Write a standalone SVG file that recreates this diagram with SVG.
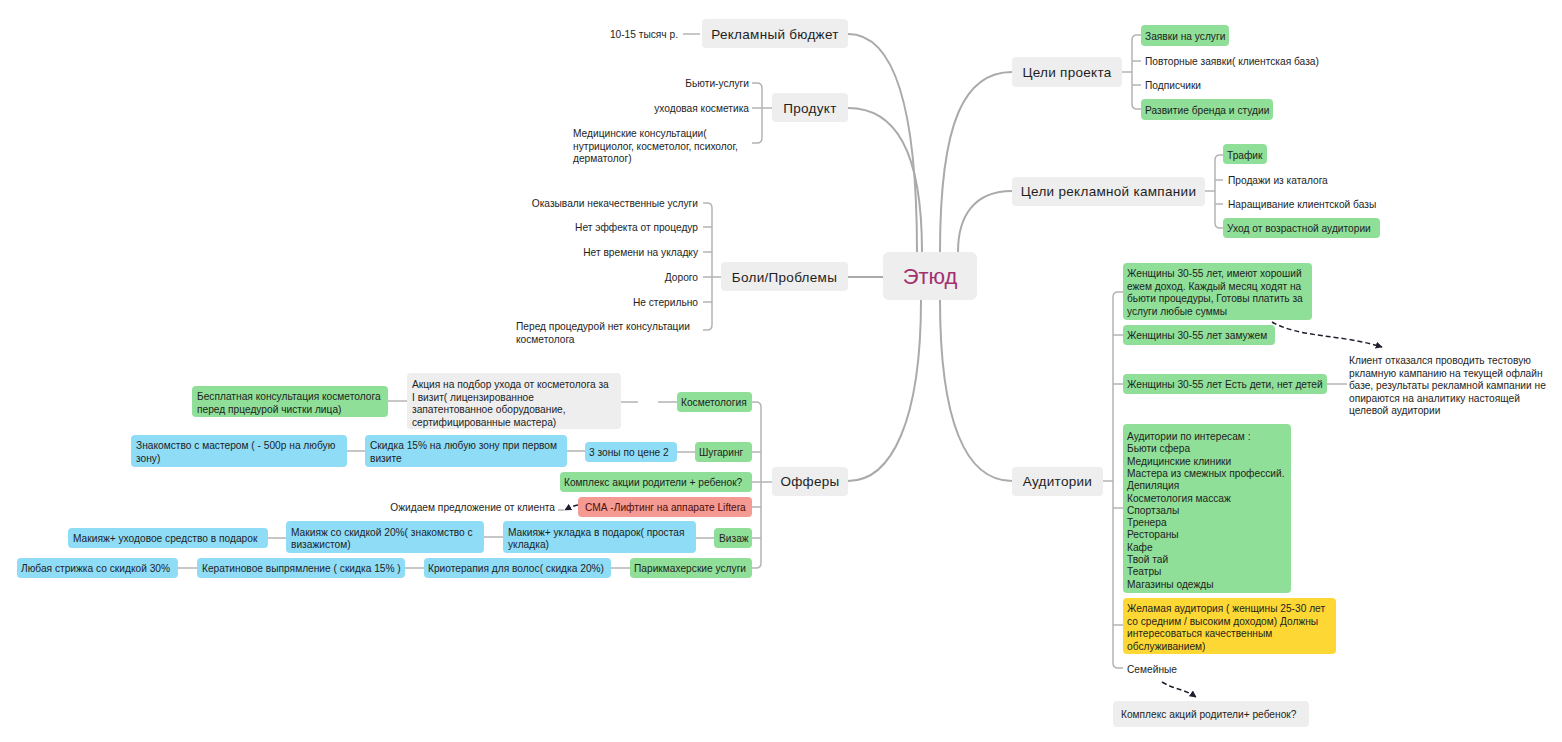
<svg xmlns="http://www.w3.org/2000/svg" width="1562" height="742" viewBox="0 0 1562 742">
<style>
text{font-family:"Liberation Sans",Arial,sans-serif;fill:#1e1e1e}
.s{font-size:10.2px}
.m{font-size:13.5px;text-anchor:middle;letter-spacing:0.3px}
.c{font-size:22px;text-anchor:middle;fill:#a3306f}
.e{text-anchor:end}
.main{fill:#eeeeee}
.g{fill:#8fdf99}
.b{fill:#8fdcf7}
.r{fill:#f59a93}
.y{fill:#fdd835}
.gr{fill:#eeeeee}
.ln{fill:none;stroke:#aaaaaa;stroke-width:2}
.br{fill:none;stroke:#b4b4b4;stroke-width:1.5}
.da{fill:none;stroke:#1e1e2e;stroke-width:1.5;stroke-dasharray:5 3}
</style>
<defs>
<marker id="ah" viewBox="0 0 10 10" refX="9" refY="5" markerWidth="7" markerHeight="7" orient="auto" markerUnits="userSpaceOnUse">
<path d="M0,0 L10,5 L0,10 z" fill="#1e1e2e"/>
</marker>
</defs>

<g id="connectors">
<path class="ln" d="M848,34 C892,34 917,100 917,252"/>
<path class="ln" d="M848,108 C895,108 922,150 922,252"/>
<path class="ln" d="M848,277 H883"/>
<path class="ln" d="M848,481 C892,481 921,420 921,300"/>
<path class="ln" d="M1012,72 C965,72 940,120 940,252"/>
<path class="ln" d="M1012,191 C975,191 958,215 958,252"/>
<path class="ln" d="M1012,481 C965,481 940,420 940,300"/>

<path class="br" d="M683,34 H700"/>
<path class="br" d="M752,83 H757 Q762,83 762,88 V138 Q762,143 757,143 H752 M752,108 H772"/>
<path class="br" d="M703,203 H707 Q712,203 712,208 V325 Q712,330 707,330 H703 M703,227 H712 M703,252 H712 M703,277 H721 M703,302 H712"/>
<path class="br" d="M752,402 H756 Q761,402 761,407 V563 Q761,568 756,568 H752 M752,452 H761 M752,482 H772 M752,507 H761 M752,538 H761"/>
<path class="br" d="M621,402 H638 M658,402 H677"/>
<path class="br" d="M388,401 H407"/>
<path class="br" d="M677,452 H695 M567,451 H585 M347,451 H365"/>
<path class="br" d="M696,538 H714 M484,537 H503 M268,538 H286"/>
<path class="br" d="M611,568 H630 M405,568 H424 M178,568 H197"/>
<path class="br" d="M1141,35 H1137 Q1132,35 1132,40 V104 Q1132,109 1137,109 H1141 M1132,61 H1141 M1132,85 H1141 M1122,72 H1132"/>
<path class="br" d="M1223,155 H1220 Q1215,155 1215,160 V223 Q1215,228 1220,228 H1223 M1215,180 H1223 M1215,204 H1223 M1205,191 H1215"/>
<path class="br" d="M1123,292 H1118 Q1113,292 1113,297 V663 Q1113,668 1118,668 H1123 M1113,335 H1123 M1113,384 H1123 M1113,508 H1123 M1113,625 H1123 M1103,481 H1113"/>
<path class="br" d="M1327,384 H1347"/>
<path class="da" d="M1272,322 C1300,338 1340,334 1382,347" marker-end="url(#ah)"/>
<path class="da" d="M1162,682 C1175,690 1185,689 1196,697" marker-end="url(#ah)"/>
<path class="da" d="M578,505 Q572,506 565,510" marker-end="url(#ah)"/>
<path class="br" d="M558,510 H564"/>
</g>

<g id="center"><rect class="main" x="883" y="252" width="94" height="48" rx="6"/><text class="c" x="930" y="284">Этюд</text></g>

<g id="budget"><rect class="main" x="702" y="19" width="146" height="29" rx="4"/><text class="m" x="775" y="38.5">Рекламный бюджет</text></g>
<g id="budget-1"><text class="s e" x="678" y="37.5">10-15 тысяч р.</text></g>

<g id="product"><rect class="main" x="772" y="93" width="76" height="29" rx="4"/><text class="m" x="810" y="112.5">Продукт</text></g>
<g id="product-1"><text class="s e" x="749" y="87">Бьюти-услуги</text></g>
<g id="product-2"><text class="s e" x="749" y="112">уходовая косметика</text></g>
<g id="product-3"><text class="s" x="573" y="137">Медицинские консультации(</text><text class="s" x="573" y="149.5">нутрициолог, косметолог, психолог,</text><text class="s" x="573" y="162">дерматолог)</text></g>

<g id="pains"><rect class="main" x="721" y="262" width="127" height="29" rx="4"/><text class="m" x="784.5" y="281.5">Боли/Проблемы</text></g>
<g id="pain-1"><text class="s e" x="698" y="207">Оказывали некачественные услуги</text></g>
<g id="pain-2"><text class="s e" x="698" y="231">Нет эффекта от процедур</text></g>
<g id="pain-3"><text class="s e" x="698" y="256">Нет времени на укладку</text></g>
<g id="pain-4"><text class="s e" x="698" y="281">Дорого</text></g>
<g id="pain-5"><text class="s e" x="698" y="306">Не стерильно</text></g>
<g id="pain-6"><text class="s" x="516" y="330">Перед процедурой нет консультации</text><text class="s" x="516" y="342.5">косметолога</text></g>

<g id="offers"><rect class="main" x="772" y="467" width="76" height="29" rx="4"/><text class="m" x="810" y="486">Офферы</text></g>
<g id="cosm"><rect class="g" x="677" y="392" width="75" height="20" rx="4"/><text class="s" x="681" y="406">Косметология</text></g>
<g id="cosm-1"><rect class="gr" x="407" y="373" width="214" height="56" rx="4"/><text class="s" x="412" y="388">Акция на подбор ухода от косметолога за</text><text class="s" x="412" y="400.5">I визит(  лицензированное</text><text class="s" x="412" y="413">запатентованное оборудование,</text><text class="s" x="412" y="425.5">сертифицированные мастера)</text></g>
<g id="cosm-2"><rect class="g" x="192" y="386" width="196" height="31" rx="4"/><text class="s" x="197" y="400">Бесплатная консультация косметолога</text><text class="s" x="197" y="412.5">перед прцедурой чистки лица)</text></g>
<g id="sugar"><rect class="g" x="695" y="442" width="57" height="20" rx="4"/><text class="s" x="699" y="456">Шугаринг</text></g>
<g id="sugar-1"><rect class="b" x="585" y="442" width="92" height="20" rx="4"/><text class="s" x="589" y="456">3 зоны по цене 2</text></g>
<g id="sugar-2"><rect class="b" x="365" y="435" width="202" height="32" rx="4"/><text class="s" x="370" y="449">Скидка 15% на любую зону при первом</text><text class="s" x="370" y="461.5">визите</text></g>
<g id="sugar-3"><rect class="b" x="131" y="435" width="216" height="32" rx="4"/><text class="s" x="136" y="449">Знакомство с мастером ( - 500р на любую</text><text class="s" x="136" y="461.5">зону)</text></g>
<g id="family-offer"><rect class="g" x="560" y="472" width="192" height="20" rx="4"/><text class="s" x="564" y="486">Комплекс акции родители + ребенок?</text></g>
<g id="sma"><rect class="r" x="578" y="497" width="174" height="20" rx="4"/><text class="s" x="585" y="511" style="fill:#4a0c0c">СМА -Лифтинг на аппарате Liftera</text></g>
<g id="sma-1"><text class="s e" x="555" y="511">Ожидаем предложение от клиента</text></g>
<g id="visage"><rect class="g" x="714" y="528" width="38" height="20" rx="4"/><text class="s" x="719" y="542">Визаж</text></g>
<g id="visage-1"><rect class="b" x="503" y="521" width="193" height="32" rx="4"/><text class="s" x="508" y="535.5">Макияж+ укладка в подарок( простая</text><text class="s" x="508" y="548">укладка)</text></g>
<g id="visage-2"><rect class="b" x="286" y="521" width="198" height="32" rx="4"/><text class="s" x="291" y="535.5">Макияж со скидкой 20%( знакомство с</text><text class="s" x="291" y="548">визажистом)</text></g>
<g id="visage-3"><rect class="b" x="68" y="528" width="200" height="20" rx="4"/><text class="s" x="73" y="542">Макияж+ уходовое средство в подарок</text></g>
<g id="hair"><rect class="g" x="630" y="558" width="122" height="20" rx="4"/><text class="s" x="634" y="572">Парикмахерские услуги</text></g>
<g id="hair-1"><rect class="b" x="424" y="558" width="187" height="20" rx="4"/><text class="s" x="428" y="572">Криотерапия для волос( скидка 20%)</text></g>
<g id="hair-2"><rect class="b" x="197" y="558" width="208" height="20" rx="4"/><text class="s" x="202" y="572">Кератиновое выпрямление ( скидка 15% )</text></g>
<g id="hair-3"><rect class="b" x="17" y="558" width="161" height="20" rx="4"/><text class="s" x="21" y="572">Любая стрижка со скидкой 30%</text></g>

<g id="goals"><rect class="main" x="1012" y="57" width="110" height="30" rx="4"/><text class="m" x="1067" y="77">Цели проекта</text></g>
<g id="goal-1"><rect class="g" x="1141" y="25" width="88" height="21" rx="4"/><text class="s" x="1145" y="39.5">Заявки на услуги</text></g>
<g id="goal-2"><text class="s" x="1145" y="65">Повторные заявки( клиентская база)</text></g>
<g id="goal-3"><text class="s" x="1145" y="89">Подписчики</text></g>
<g id="goal-4"><rect class="g" x="1141" y="99" width="132" height="21" rx="4"/><text class="s" x="1145" y="113.5">Развитие бренда и студии</text></g>

<g id="campaign"><rect class="main" x="1012" y="177" width="193" height="29" rx="4"/><text class="m" x="1108.5" y="196">Цели рекламной кампании</text></g>
<g id="camp-1"><rect class="g" x="1223" y="144" width="44" height="20" rx="4"/><text class="s" x="1227" y="159">Трафик</text></g>
<g id="camp-2"><text class="s" x="1228" y="184">Продажи из каталога</text></g>
<g id="camp-3"><text class="s" x="1228" y="208">Наращивание клиентской базы</text></g>
<g id="camp-4"><rect class="g" x="1223" y="218" width="157" height="20" rx="4"/><text class="s" x="1227" y="232">Уход от возрастной аудитории</text></g>

<g id="audience"><rect class="main" x="1012" y="467" width="91" height="29" rx="4"/><text class="m" x="1057.5" y="486">Аудитории</text></g>
<g id="aud-1"><rect class="g" x="1123" y="263" width="189" height="57" rx="4"/><text class="s" x="1127" y="277">Женщины 30-55 лет, имеют хороший</text><text class="s" x="1127" y="289.5">ежем доход. Каждый месяц ходят на</text><text class="s" x="1127" y="302">бьюти процедуры, Готовы платить за</text><text class="s" x="1127" y="314.5">услуги любые суммы</text></g>
<g id="aud-2"><rect class="g" x="1123" y="325" width="152" height="20" rx="4"/><text class="s" x="1127" y="339">Женщины 30-55 лет замужем</text></g>
<g id="aud-3"><rect class="g" x="1123" y="374" width="204" height="20" rx="4"/><text class="s" x="1127" y="388">Женщины 30-55 лет Есть дети, нет детей</text></g>
<g id="aud-3-note"><text class="s" x="1349" y="364">Клиент отказался проводить тестовую</text><text class="s" x="1349" y="376.5">ркламную кампанию на текущей офлайн</text><text class="s" x="1349" y="389">базе, результаты рекламной кампании не</text><text class="s" x="1349" y="401.5">опираются на аналитику настоящей</text><text class="s" x="1349" y="414">целевой аудитории</text></g>
<g id="aud-4"><rect class="g" x="1123" y="424" width="168" height="169" rx="4"/>
<text class="s" x="1127" y="440">Аудитории по интересам :</text>
<text class="s" x="1127" y="452.3">Бьюти сфера</text>
<text class="s" x="1127" y="464.6">Медицинские клиники</text>
<text class="s" x="1127" y="476.9">Мастера из смежных профессий.</text>
<text class="s" x="1127" y="489.2">Депиляция</text>
<text class="s" x="1127" y="501.5">Косметология массаж</text>
<text class="s" x="1127" y="513.8">Спортзалы</text>
<text class="s" x="1127" y="526.1">Тренера</text>
<text class="s" x="1127" y="538.4">Рестораны</text>
<text class="s" x="1127" y="550.7">Кафе</text>
<text class="s" x="1127" y="563">Твой тай</text>
<text class="s" x="1127" y="575.3">Театры</text>
<text class="s" x="1127" y="587.6">Магазины одежды</text></g>
<g id="aud-5"><rect class="y" x="1123" y="598" width="213" height="56" rx="4"/><text class="s" x="1127" y="612">Желамая аудитория ( женщины 25-30 лет</text><text class="s" x="1127" y="624.5">со средним / высоким доходом) Должны</text><text class="s" x="1127" y="637">интересоваться качественным</text><text class="s" x="1127" y="649.5">обслуживанием)</text></g>
<g id="aud-6"><text class="s" x="1127" y="673">Семейные</text></g>
<g id="aud-6-note"><rect class="gr" x="1113" y="701" width="196" height="26" rx="4"/><text class="s" x="1121" y="718">Комплекс акций родители+ ребенок?</text></g>
</svg>
